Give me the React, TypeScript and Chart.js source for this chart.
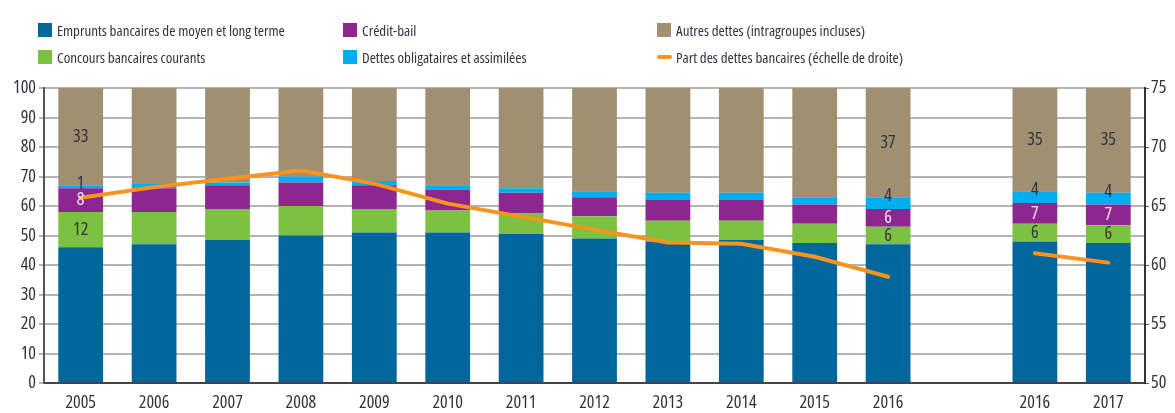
import React, { useEffect, useRef } from "react";
import { Chart, registerables } from "chart.js";

Chart.register(...registerables);

// ---- Data ----
const categories = ["2005", "2006", "2007", "2008", "2009", "2010", "2011", "2012", "2013", "2014", "2015", "2016", "", "2016", "2017"];

const emprunts = [46, 47, 48.5, 50, 51, 51, 50.5, 49, 48, 48.5, 47.5, 47, null, 48, 47.5];
const concours = [12, 11, 10.5, 10, 8, 7.5, 7, 7.5, 7, 6.5, 6.5, 6, null, 6, 6];
const creditBail = [8, 8, 8, 8, 8, 7, 7, 6.5, 7, 7, 6.5, 6, null, 7, 7];
const obligataires = [1, 1.5, 1, 2, 1.5, 1.5, 1.5, 2, 2.5, 2.5, 2.5, 4, null, 4, 4];
const autres = [33, 32.5, 32, 30, 31.5, 33, 34, 35, 35.5, 35.5, 37, 37, null, 35, 35.5];
const partBancaire = [65.7, 66.6, 67.3, 68, 66.9, 65.2, 64.1, 63, 61.9, 61.8, 60.7, 59, null, 61, 60.2];

// value labels shown on the bars
const concoursLabels = ["12", null, null, null, null, null, null, null, null, null, null, "6", null, "6", "6"];
const creditBailLabels = ["8", null, null, null, null, null, null, null, null, null, null, "6", null, "7", "7"];
const obligatairesLabels = ["1", null, null, null, null, null, null, null, null, null, null, "4", null, "4", "4"];
const autresLabels = ["33", null, null, null, null, null, null, null, null, null, null, "37", null, "35", "35"];

const leftTicks = { min: 0, max: 100, step: 10 };
const rightTicks = { min: 50, max: 75, step: 5 };

const COLORS = {
  emprunts: "#00669b",
  concours: "#7dc143",
  credit: "#8e2690",
  oblig: "#00adee",
  autres: "#a18f72",
  part: "#f7941d",
};

const FAMILY = "'Open Sans', 'Roboto', sans-serif";
const TEXT = "#33333f";

const legendItems = [
  { label: "Emprunts bancaires de moyen et long terme", color: COLORS.emprunts, kind: "box", col: 0, row: 0 },
  { label: "Concours bancaires courants", color: COLORS.concours, kind: "box", col: 0, row: 1 },
  { label: "Crédit-bail", color: COLORS.credit, kind: "box", col: 1, row: 0 },
  { label: "Dettes obligataires et assimilées", color: COLORS.oblig, kind: "box", col: 1, row: 1 },
  { label: "Autres dettes (intragroupes incluses)", color: COLORS.autres, kind: "box", col: 2, row: 0 },
  { label: "Part des dettes bancaires (échelle de droite)", color: COLORS.part, kind: "line", col: 2, row: 1 },
];
const legendColX = [38, 343, 657];
const legendRowY = [21, 48];

const valueLabelPlugin = {
  id: "valueLabels",
  afterDatasetsDraw(chart: any) {
    const ctx = chart.ctx;
    ctx.save();
    ctx.font = `condensed 18px ${FAMILY}`;
    ctx.textAlign = "center";
    ctx.textBaseline = "middle";
    chart.data.datasets.forEach((ds: any, di: number) => {
      if (!ds.valueLabels) return;
      const meta = chart.getDatasetMeta(di);
      meta.data.forEach((el: any, i: number) => {
        const txt = ds.valueLabels[i];
        if (!txt) return;
        const h = Math.abs(el.base - el.y);
        const cy = h < 12 ? el.y - 1 : (el.y + el.base) / 2;
        ctx.fillStyle = ds.valueLabelColor || TEXT;
        ctx.fillText(txt, el.x, cy);
      });
    });
    ctx.restore();
  },
};

export default function App() {
  const canvasRef = useRef<HTMLCanvasElement | null>(null);

  useEffect(() => {
    if (!canvasRef.current) return;
    const barCommon = {
      type: "bar" as const,
      yAxisID: "y",
      barPercentage: 0.61,
      categoryPercentage: 1,
      order: 1,
      borderWidth: 0,
    };
    const tickFont = { family: FAMILY, size: 18, weight: "condensed" };
    const chart = new Chart(canvasRef.current, {
      type: "bar",
      data: {
        labels: categories,
        datasets: [
          { ...barCommon, label: "Emprunts bancaires de moyen et long terme", data: emprunts, backgroundColor: COLORS.emprunts },
          { ...barCommon, label: "Concours bancaires courants", data: concours, backgroundColor: COLORS.concours, valueLabels: concoursLabels } as any,
          { ...barCommon, label: "Crédit-bail", data: creditBail, backgroundColor: COLORS.credit, valueLabels: creditBailLabels, valueLabelColor: "#f4e6f4" } as any,
          { ...barCommon, label: "Dettes obligataires et assimilées", data: obligataires, backgroundColor: COLORS.oblig, valueLabels: obligatairesLabels } as any,
          { ...barCommon, label: "Autres dettes (intragroupes incluses)", data: autres, backgroundColor: COLORS.autres, valueLabels: autresLabels } as any,
          {
            type: "line",
            label: "Part des dettes bancaires (échelle de droite)",
            data: partBancaire,
            yAxisID: "y1",
            borderColor: COLORS.part,
            backgroundColor: COLORS.part,
            borderWidth: 4,
            pointRadius: 0,
            spanGaps: false,
            tension: 0,
            order: 0,
            borderCapStyle: "round",
          } as any,
        ],
      },
      options: {
        responsive: false,
        animation: false,
        devicePixelRatio: 1,
        layout: { padding: { top: 88, left: 0, right: 0, bottom: 0 } },
        plugins: {
          legend: { display: false },
          tooltip: { enabled: false },
        },
        scales: {
          x: {
            stacked: true,
            grid: { display: false, drawTicks: false },
            border: { display: true, color: "#444", width: 2 },
            ticks: { color: TEXT, font: tickFont, padding: 9, autoSkip: false, maxRotation: 0 },
            afterFit(scale: any) { scale.height = 30; },
          },
          y: {
            stacked: true,
            min: leftTicks.min,
            max: leftTicks.max,
            position: "left",
            ticks: { stepSize: leftTicks.step, color: TEXT, font: tickFont, padding: 3 },
            grid: { color: "#b4b4b4", lineWidth: 2, tickLength: 5, tickColor: "#b4b4b4" },
            border: { display: true, color: "#555", width: 2 },
            afterFit(scale: any) { scale.width = 44; },
          },
          y1: {
            min: rightTicks.min,
            max: rightTicks.max,
            position: "right",
            ticks: { stepSize: rightTicks.step, color: TEXT, font: tickFont, padding: 2 },
            grid: { drawOnChartArea: false, tickLength: 4, color: "#555", lineWidth: 1 },
            border: { display: true, color: "#333", width: 2 },
            afterFit(scale: any) { scale.width = 30; },
          },
        },
      },
      plugins: [valueLabelPlugin],
    } as any);
    return () => chart.destroy();
  }, []);

  return (
    <div style={{ position: "absolute", left: 0, top: 0, width: 1175, height: 413, background: "#fff", overflow: "hidden" }}>
      <canvas ref={canvasRef} width={1175} height={413} style={{ position: "absolute", left: 0, top: 0 }} />
      {legendItems.map((it) => (
        <div
          key={it.label}
          style={{
            position: "absolute",
            left: legendColX[it.col],
            top: legendRowY[it.row],
            height: 18,
            display: "flex",
            alignItems: "center",
            fontFamily: FAMILY,
            fontStretch: "condensed",
            fontSize: 15,
            color: TEXT,
            whiteSpace: "nowrap",
          }}
        >
          {it.kind === "box" ? (
            <span style={{ display: "inline-block", width: 14, height: 14, background: it.color, marginRight: 5 }} />
          ) : (
            <span style={{ display: "inline-block", width: 15, height: 4, borderRadius: 2, background: it.color, marginRight: 4 }} />
          )}
          <span>{it.label}</span>
        </div>
      ))}
    </div>
  );
}
